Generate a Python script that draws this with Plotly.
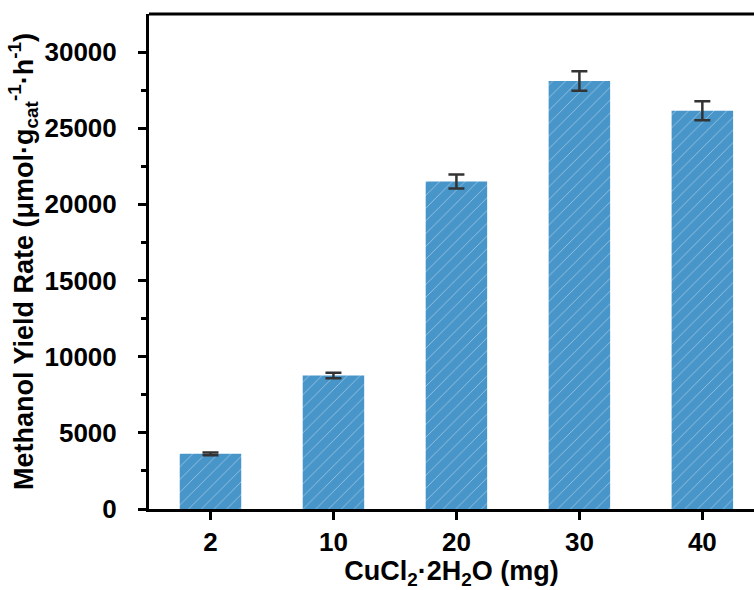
import plotly.graph_objects as go

# CuCl2·2H2O loading (mg) and methanol yield rate (μmol·g_cat^-1·h^-1)
loadings = ["2", "10", "20", "30", "40"]
yield_rate = [3620, 8760, 21500, 28100, 26150]
yield_err = [90, 180, 460, 640, 620]

y_ticks = [0, 5000, 10000, 15000, 20000, 25000, 30000]
y_minor = [2500, 7500, 12500, 17500, 22500, 27500]

BAR_BLUE = "#4795c9"
FONT = "Liberation Sans"

fig = go.Figure()
fig.add_trace(go.Bar(
    x=loadings,
    y=yield_rate,
    width=0.5,
    marker=dict(
        color=BAR_BLUE,
        line=dict(width=0),
        pattern=dict(shape="/", fillmode="overlay", fgcolor="white",
                     fgopacity=0.55, size=9, solidity=0.08),
    ),
    error_y=dict(type="data", array=yield_err, visible=True,
                 color="#333333", thickness=2.5, width=8),
    showlegend=False,
))

fig.update_layout(
    width=754, height=590,
    margin=dict(l=149, r=0, t=14, b=81),
    paper_bgcolor="white",
    plot_bgcolor="white",
    font=dict(family=FONT, color="black"),
    bargap=0.5,
)

fig.update_xaxes(
    type="category",
    range=[-0.5, 4.42],
    showline=True, linecolor="black", linewidth=3,
    ticks="outside", ticklen=8, tickwidth=2.5, tickcolor="black",
    tickfont=dict(family=FONT, size=26, weight="bold"),
    title=dict(text="CuCl<sub>2</sub>·2H<sub>2</sub>O (mg)",
               font=dict(family=FONT, size=27, weight="bold"), standoff=4),
    showgrid=False, zeroline=False,
)

fig.update_yaxes(
    range=[0, 32500],
    showline=True, linecolor="black", linewidth=3,
    tickvals=y_ticks,
    ticktext=[str(v) for v in y_ticks],
    ticks="outside", ticklen=8, tickwidth=2.5, tickcolor="black",
    ticklabelstandoff=16,
    minor=dict(tickvals=y_minor,
               ticks="outside", ticklen=5, tickwidth=2.5, tickcolor="black",
               showgrid=False),
    tickfont=dict(family=FONT, size=26, weight="bold"),
    title=dict(text="Methanol Yield Rate (μmol·g<sub>cat</sub><sup>-1</sup>·h<sup>-1</sup>)",
               font=dict(family=FONT, size=27, weight="bold"), standoff=4),
    showgrid=False, zeroline=False,
)

# top frame line only (no right-hand border)
fig.add_shape(type="line", xref="paper", yref="paper",
              x0=0, x1=1, y0=1, y1=1,
              line=dict(color="black", width=3))

fig.write_html("out.html")
